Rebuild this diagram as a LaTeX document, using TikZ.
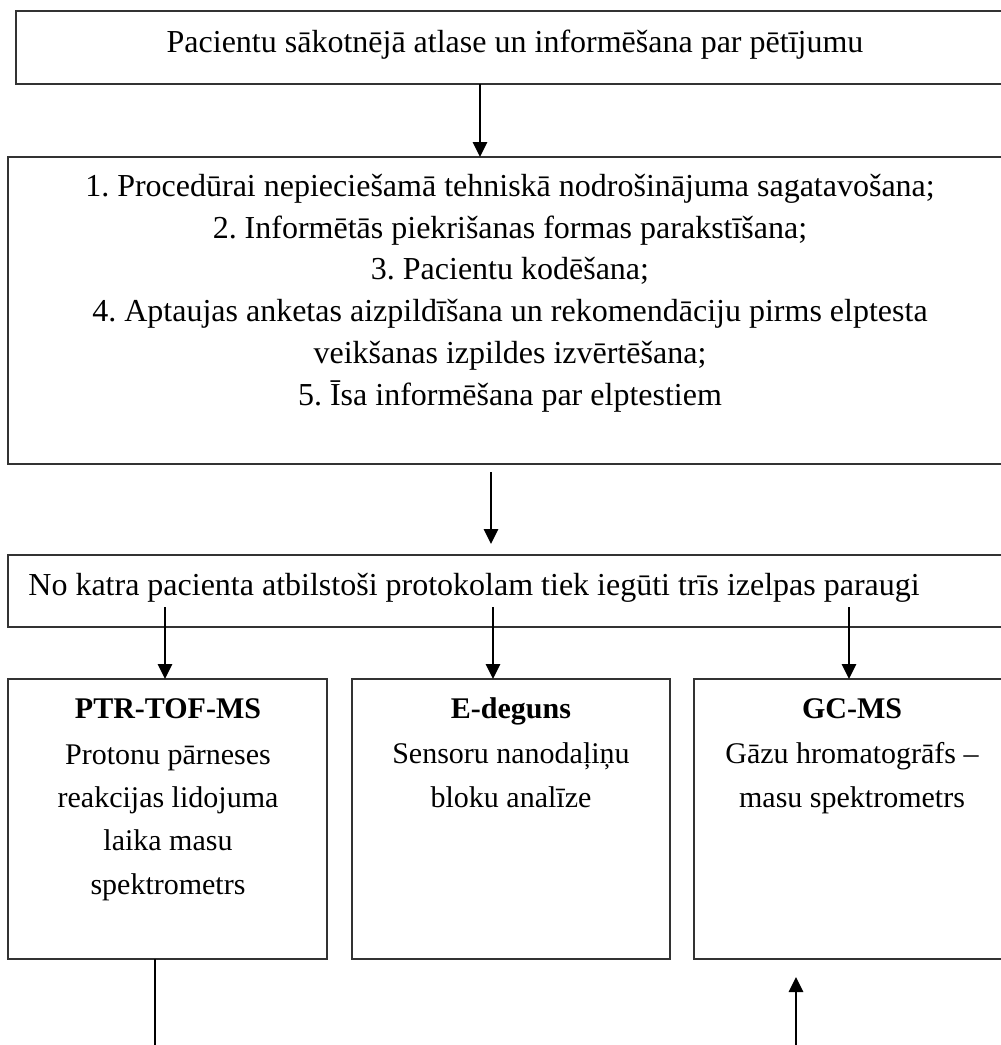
\documentclass[tikz,border=0pt]{standalone}
\usepackage{fontspec}
\setmainfont{Liberation Serif}
\usetikzlibrary{arrows.meta}
\frenchspacing
\tikzset{
  box/.style={draw=black!80, line width=0.75pt, rectangle, inner sep=0pt, outer sep=0pt, anchor=north west},
  arr/.style={draw=black, line width=1pt, -{Triangle[length=7.5pt,width=7.2pt]}},
  plain/.style={draw=black, line width=0.6pt},
  bigtxt/.style={font={\fontsize{16}{20.85}\selectfont}, inner sep=0pt, align=center},
  smalltxt/.style={font={\fontsize{15}{21.65}\selectfont}, inner sep=0pt, align=center},
  headtxt/.style={font={\fontsize{15}{18}\selectfont\bfseries}, inner sep=0pt},
}
\begin{document}
\begin{tikzpicture}[x=0.5pt,y=-0.5pt]
\useasboundingbox (0,0) rectangle (1001,1045);
\clip (0,0) rectangle (1001,1045);

% boxes (the right edges run past the page)
\node[box, minimum width=500pt, minimum height=36.5pt] (top) at (16,11) {};
\node[box, minimum width=505pt, minimum height=153.5pt] (steps) at (8,157) {};
\node[box, minimum width=505pt, minimum height=36pt] (samples) at (8,555) {};
\node[box, minimum width=159.5pt, minimum height=140pt] (ptr) at (8,679) {};
\node[box, minimum width=159pt, minimum height=140pt] (enose) at (352,679) {};
\node[box, minimum width=158pt, minimum height=140pt] (gcms) at (694,679) {};

% texts (a multi-line node sits on the baseline of its last line)
\node[bigtxt, anchor=base] (toptxt) at (515,52) {Pacientu sākotnējā atlase un informēšana par pētījumu};
\node[bigtxt, anchor=base] (stepstxt) at (510,405) {1. Procedūrai nepieciešamā tehniskā nodrošinājuma sagatavošana;\\
2. Informētās piekrišanas formas parakstīšana;\\
3. Pacientu kodēšana;\\
4. Aptaujas anketas aizpildīšana un rekomendāciju pirms elptesta\\
veikšanas izpildes izvērtēšana;\\
5. Īsa informēšana par elptestiem};
\node[bigtxt, anchor=base west] (samplestxt) at (28,595) {No katra pacienta atbilstoši protokolam tiek iegūti trīs izelpas paraugi};

\node[headtxt, anchor=base] (ptrhead) at (168,718) {PTR-TOF-MS};
\node[smalltxt, anchor=base] (ptrtxt) at (168,894) {Protonu pārneses\\reakcijas lidojuma\\laika masu\\spektrometrs};
\node[headtxt, anchor=base] (enosehead) at (511,718) {E-deguns};
\node[smalltxt, anchor=base] (enosetxt) at (511,807) {Sensoru nanodaļiņu\\bloku analīze};
\node[headtxt, anchor=base] (gcmshead) at (852,718) {GC-MS};
\node[smalltxt, anchor=base] (gcmstxt) at (852,807) {Gāzu hromatogrāfs –\\masu spektrometrs};

% connector positions
\coordinate (c1) at (480,0);
\coordinate (c2) at (491,0);
\coordinate (s1) at (165,607);
\coordinate (s2) at (493,607);
\coordinate (s3) at (849,607);
\coordinate (d1) at (155,1045);
\coordinate (u0) at (796,1045);
\coordinate (u1) at (796,977);

% connectors
\draw[arr] (top.south -| c1) -- (steps.north -| c1);
\draw[arr, shorten <=4pt, shorten >=5.5pt] (steps.south -| c2) -- (samples.north -| c2);
\draw[arr] (s1) -- (ptr.north -| s1);
\draw[arr] (s2) -- (enose.north -| s2);
\draw[arr] (s3) -- (gcms.north -| s3);
\draw[plain] (ptr.south -| d1) -- (d1);
\draw[arr] (u0) -- (u1);
\end{tikzpicture}
\end{document}
